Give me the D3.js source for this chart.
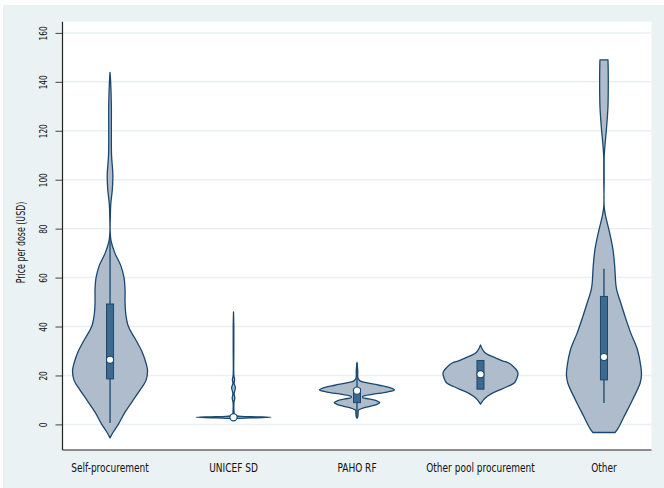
<!DOCTYPE html>
<html>
<head>
<meta charset="utf-8">
<script src="https://cdn.jsdelivr.net/npm/d3@7"></script>
<style>
  html, body { margin: 0; padding: 0; background: #ffffff; }
  svg { display: block; }
  text { font-family: "DejaVu Sans Condensed", "Liberation Sans", sans-serif; fill: #111; }
</style>
</head>
<body>
<svg id="chart" width="664" height="488"></svg>
<script>
// Procurement channels shown along the x axis
const categories = ["Self-procurement", "UNICEF SD", "PAHO RF", "Other pool procurement", "Other"];

// Y axis ticks (price per dose, USD)
const yTicks = [0, 20, 40, 60, 80, 100, 120, 140, 160];

// Kernel density outlines: [price, density relative to the group's peak]
const selfProfile = [[-5.5,0],[-3,0.09],[0,0.22],[5,0.40],[10,0.62],[14,0.80],[18,0.96],[22,1.0],[25,0.96],[30,0.845],[35,0.67],[40,0.49],[45,0.42],[50,0.40],[55,0.40],[60,0.373],[65,0.285],[70,0.13],[75,0.027],[79,0.003],[85,0.008],[90,0.019],[96,0.061],[102,0.075],[110,0.04],[120,0.035],[130,0.035],[140,0.016],[143.9,0]];
const unicefProfile = [[1.9,0],[2.3,0.03],[2.5,0.2],[2.7,0.6],[2.9,1.0],[3.1,0.6],[3.3,0.2],[3.6,0.03],[4.2,0.02],[6,0.01],[9,0.012],[10.8,0.035],[12.5,0.015],[15,0.05],[16.8,0.015],[18.2,0.03],[20,0.01],[30,0.008],[40,0.008],[46,0]];
const pahoProfile = [[2.5,0],[3.5,0.025],[5,0.03],[5.8,0.04],[6.5,0.13],[7.3,0.32],[8.2,0.53],[8.9,0.61],[9.6,0.53],[10.4,0.32],[11,0.15],[11.5,0.16],[12.3,0.4],[13.2,0.8],[14.1,1.0],[15,0.88],[16,0.59],[17,0.27],[17.8,0.08],[19,0.025],[22,0.02],[25.3,0]];
const poolProfile = [[8.3,0],[10,0.08],[11.5,0.187],[12.8,0.32],[14.2,0.533],[15.5,0.72],[16.9,0.9],[19,0.973],[20.9,1.0],[22,0.973],[23.6,0.88],[25,0.765],[26,0.587],[27.2,0.4],[28.4,0.213],[29.5,0.107],[31,0.04],[32.5,0]];
const otherProfile = [[-3.3,0.295],[-1.6,0.375],[3.2,0.536],[10,0.76],[16.9,0.965],[20.2,1.0],[23.6,0.984],[30.5,0.893],[37.3,0.716],[44.1,0.563],[49.6,0.448],[55,0.34],[57.7,0.314],[64.5,0.287],[71.4,0.241],[78.2,0.153],[85,0.046],[89,0.005],[100,0.005],[108,0.005],[110,0.008],[115,0.032],[120,0.062],[125,0.088],[130,0.107],[138,0.115],[145,0.113],[149,0.107]];

// Box plot summaries per category
const q1 = [18.6, 2.7, 8.9, 14.4, 18.2];
const median = [26.4, 2.9, 13.8, 20.5, 27.5];
const q3 = [49.2, 3.1, 14.6, 26.1, 52.3];
const whiskerLo = [0.6, 2.5, 2.5, 14.4, 8.7];
const whiskerHi = [77, 3.5, 25, 26.1, 63.6];

const profiles = [selfProfile, unicefProfile, pahoProfile, poolProfile, otherProfile];

const svg = d3.select("#chart");
const W = 664, H = 488;
const plot = { left: 62.5, right: 651.5, top: 21.7, bottom: 450 };

const navy = "#1a476f";
const violinFill = "#aebccb";
const boxFill = "#3e6a8f";
const gridColor = "#e9f0f2";

// squeeze a text horizontally (along its own baseline) to a given length
function narrow(sel, target) {
  const node = sel.node();
  const w = node.getComputedTextLength();
  return w > 0 ? target / w : 1;
}

// outer backdrop
svg.append("rect").attr("x", 3).attr("y", 5).attr("width", W - 3).attr("height", H - 5).attr("fill", "#eaf2f3");
// plot region
svg.append("rect").attr("x", plot.left).attr("y", plot.top)
  .attr("width", plot.right - plot.left).attr("height", plot.bottom - plot.top).attr("fill", "#ffffff");

const x = d3.scalePoint().domain(categories).range([plot.left, plot.right]).padding(0.385);
const y = d3.scaleLinear().domain([0, 160]).range([424.4, 32.9]);
const halfWidth = d3.scaleLinear().domain([0, 1]).range([0, 37.5]);

// gridlines
svg.append("g").selectAll("line").data(yTicks).join("line")
  .attr("x1", plot.left).attr("x2", plot.right)
  .attr("y1", d => y(d)).attr("y2", d => y(d))
  .attr("stroke", gridColor).attr("stroke-width", 1.5);

// y axis ticks and vertical tick labels
const yAxis = svg.append("g").attr("transform", `translate(${plot.left},0)`)
  .call(d3.axisLeft(y).tickValues(yTicks).tickSize(7).tickPadding(2).tickFormat(d3.format("d")));
yAxis.select(".domain").remove();
yAxis.selectAll(".tick line").attr("stroke", "#444").attr("stroke-width", 1);
const tickTexts = yAxis.selectAll(".tick text")
  .attr("x", null).attr("y", null).attr("dy", null)
  .attr("text-anchor", "middle")
  .style("font-size", "11px")
  .attr("fill", "#111");
const tickK = narrow(yAxis.select(".tick:last-of-type text"), 14);
tickTexts.attr("transform", `translate(-15.5,0) rotate(-90) scale(${tickK},1)`);

// axis lines
svg.append("line").attr("x1", plot.left).attr("x2", plot.left).attr("y1", plot.top).attr("y2", plot.bottom)
  .attr("stroke", "#222").attr("stroke-width", 1.2);
svg.append("line").attr("x1", plot.left).attr("x2", plot.right).attr("y1", plot.bottom).attr("y2", plot.bottom)
  .attr("stroke", "#222").attr("stroke-width", 1.2);

// y title
const yTitle = svg.append("text")
  .attr("text-anchor", "middle")
  .style("font-size", "11.5px")
  .text("Price per dose (USD)");
const titleK = narrow(yTitle, 81.6);
yTitle.attr("transform", `translate(24.5,242.5) rotate(-90) scale(${titleK},1)`);

// x labels
const xLabels = svg.append("g").selectAll("text").data(categories).join("text")
  .attr("text-anchor", "middle")
  .style("font-size", "13px")
  .text(d => d);
const labelK = narrow(xLabels.filter((d, i) => i === 0), 77.7);
xLabels.attr("transform", d => `translate(${x(d)},471.5) scale(${labelK},1)`);

// violins, boxes, medians
categories.forEach((cat, i) => {
  const cx = x(cat);
  const g = svg.append("g");
  const area = d3.area()
    .y(d => y(d[0]))
    .x0(d => cx - halfWidth(d[1]))
    .x1(d => cx + halfWidth(d[1]))
    .curve(d3.curveCatmullRom.alpha(0.5));
  g.append("path").datum(profiles[i])
    .attr("d", area)
    .attr("fill", violinFill)
    .attr("stroke", navy)
    .attr("stroke-width", 1.3)
    .attr("stroke-linejoin", "round");

  g.append("line")
    .attr("x1", cx).attr("x2", cx)
    .attr("y1", y(whiskerLo[i])).attr("y2", y(whiskerHi[i]))
    .attr("stroke", navy).attr("stroke-width", 1.3);

  const bw = 7;
  g.append("rect")
    .attr("x", cx - bw / 2).attr("width", bw)
    .attr("y", y(q3[i])).attr("height", Math.max(0.5, y(q1[i]) - y(q3[i])))
    .attr("fill", boxFill).attr("stroke", navy).attr("stroke-width", 1);

  g.append("circle")
    .attr("cx", cx).attr("cy", y(median[i])).attr("r", 3.6)
    .attr("fill", "#ffffff").attr("stroke", navy).attr("stroke-width", 1.1);
});
</script>
</body>
</html>
